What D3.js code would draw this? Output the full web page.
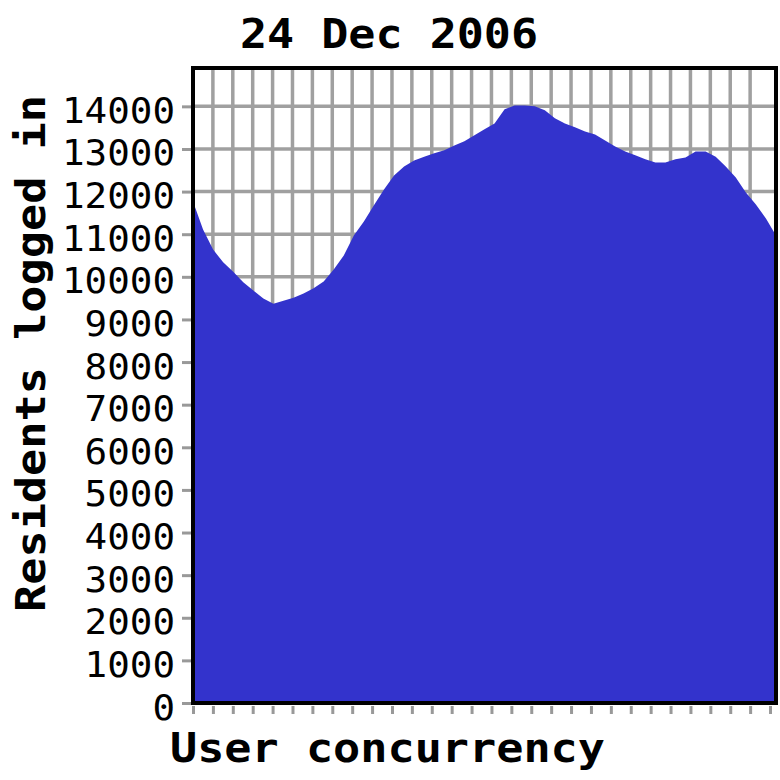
<!DOCTYPE html>
<html><head><meta charset="utf-8">
<script src="https://cdn.jsdelivr.net/npm/d3@7"></script>
<style>html,body{margin:0;padding:0;background:#fff;}svg{display:block;}</style>
</head><body>
<svg id="chart" width="780" height="780"></svg>
<script>
const title = "24 Dec 2006";
const xTitle = "User concurrency";
const yTitle = "Residents logged in";
// Residents logged in, sampled evenly across the day (index 0..58)
const residents = [11770,11110,10640,10340,10120,9870,9680,9490,9370,9440,
  9510,9610,9730,9890,10170,10500,10970,11300,11680,12050,
  12380,12590,12730,12820,12900,12970,13080,13180,13320,13460,
  13600,13930,14020,14020,14000,13910,13720,13600,13510,13410,
  13340,13200,13060,12940,12850,12760,12680,12680,12760,12800,
  12940,12940,12820,12590,12330,11980,11700,11370,10970];
const yTicks = [0,1000,2000,3000,4000,5000,6000,7000,8000,9000,10000,11000,12000,13000,14000];
const yMax = 14900;
const xTicks = d3.range(0, 30);
const xTickMax = 29.3;

const svg = d3.select("#chart");
const L = 193, R = 776, T = 68, B = 703;

const xi = d3.scaleLinear().domain([0, residents.length - 1]).range([L, R]);
const xt = d3.scaleLinear().domain([0, xTickMax]).range([L, R]);
const y = d3.scaleLinear().domain([0, yMax]).range([B, T]);

svg.append("rect").attr("width",780).attr("height",780).attr("fill","#fff");

const grid = svg.append("g").attr("stroke","#a0a0a0").attr("stroke-width",3.5);
grid.selectAll("line.h").data(yTicks.filter(d => d > 0)).join("line")
  .attr("x1",L).attr("x2",R).attr("y1",d=>y(d)).attr("y2",d=>y(d));
grid.selectAll("line.v").data(xTicks.filter(d => d > 0 && xt(d) < R - 10)).join("line")
  .attr("y1",T).attr("y2",B).attr("x1",d=>xt(d)).attr("x2",d=>xt(d));

const area = d3.area().x((d,i)=>xi(i)).y0(B).y1(d=>y(d)).curve(d3.curveLinear);
svg.append("path").datum(residents).attr("d",area).attr("fill","#3333cc");

// y axis ticks
const yAxis = d3.axisLeft(y).tickValues(yTicks).tickSize(9).tickFormat(d=>d);
const gy = svg.append("g").attr("transform",`translate(${L-2},0)`).call(yAxis);
gy.select(".domain").remove();
gy.selectAll(".tick line").attr("stroke","#999").attr("stroke-width",3);
gy.selectAll(".tick text")
  .attr("x",-16).attr("dy",16)
  .attr("font-family","DejaVu Sans Mono").attr("font-size",36).attr("fill","#000")
  .attr("text-anchor","end")
  .attr("textLength",d=>String(d).length*22.6).attr("lengthAdjust","spacingAndGlyphs");

// x axis ticks
const xAxis = d3.axisBottom(xt).tickValues(xTicks).tickSize(8).tickFormat("");
const gx = svg.append("g").attr("transform",`translate(0,${B+3})`).call(xAxis);
gx.select(".domain").remove();
gx.selectAll(".tick line").attr("stroke","#999").attr("stroke-width",3);

// border
svg.append("rect").attr("x",L).attr("y",T).attr("width",R-L).attr("height",B-T)
  .attr("fill","none").attr("stroke","#000").attr("stroke-width",4);

const bold = {"font-family":"DejaVu Sans Mono","font-weight":"bold","font-size":41,"fill":"#000"};
function applyAttrs(sel, o){ for (const k in o) sel.attr(k,o[k]); return sel; }

applyAttrs(svg.append("text"), bold).attr("x",240).attr("y",48)
  .attr("textLength",298).attr("lengthAdjust","spacingAndGlyphs").text(title);
applyAttrs(svg.append("text"), bold).attr("x",170).attr("y",762)
  .attr("textLength",435).attr("lengthAdjust","spacingAndGlyphs").text(xTitle);
applyAttrs(svg.append("text"), bold).attr("transform","translate(45,612) rotate(-90)")
  .attr("textLength",517).attr("lengthAdjust","spacingAndGlyphs").text(yTitle);
</script>
</body></html>
